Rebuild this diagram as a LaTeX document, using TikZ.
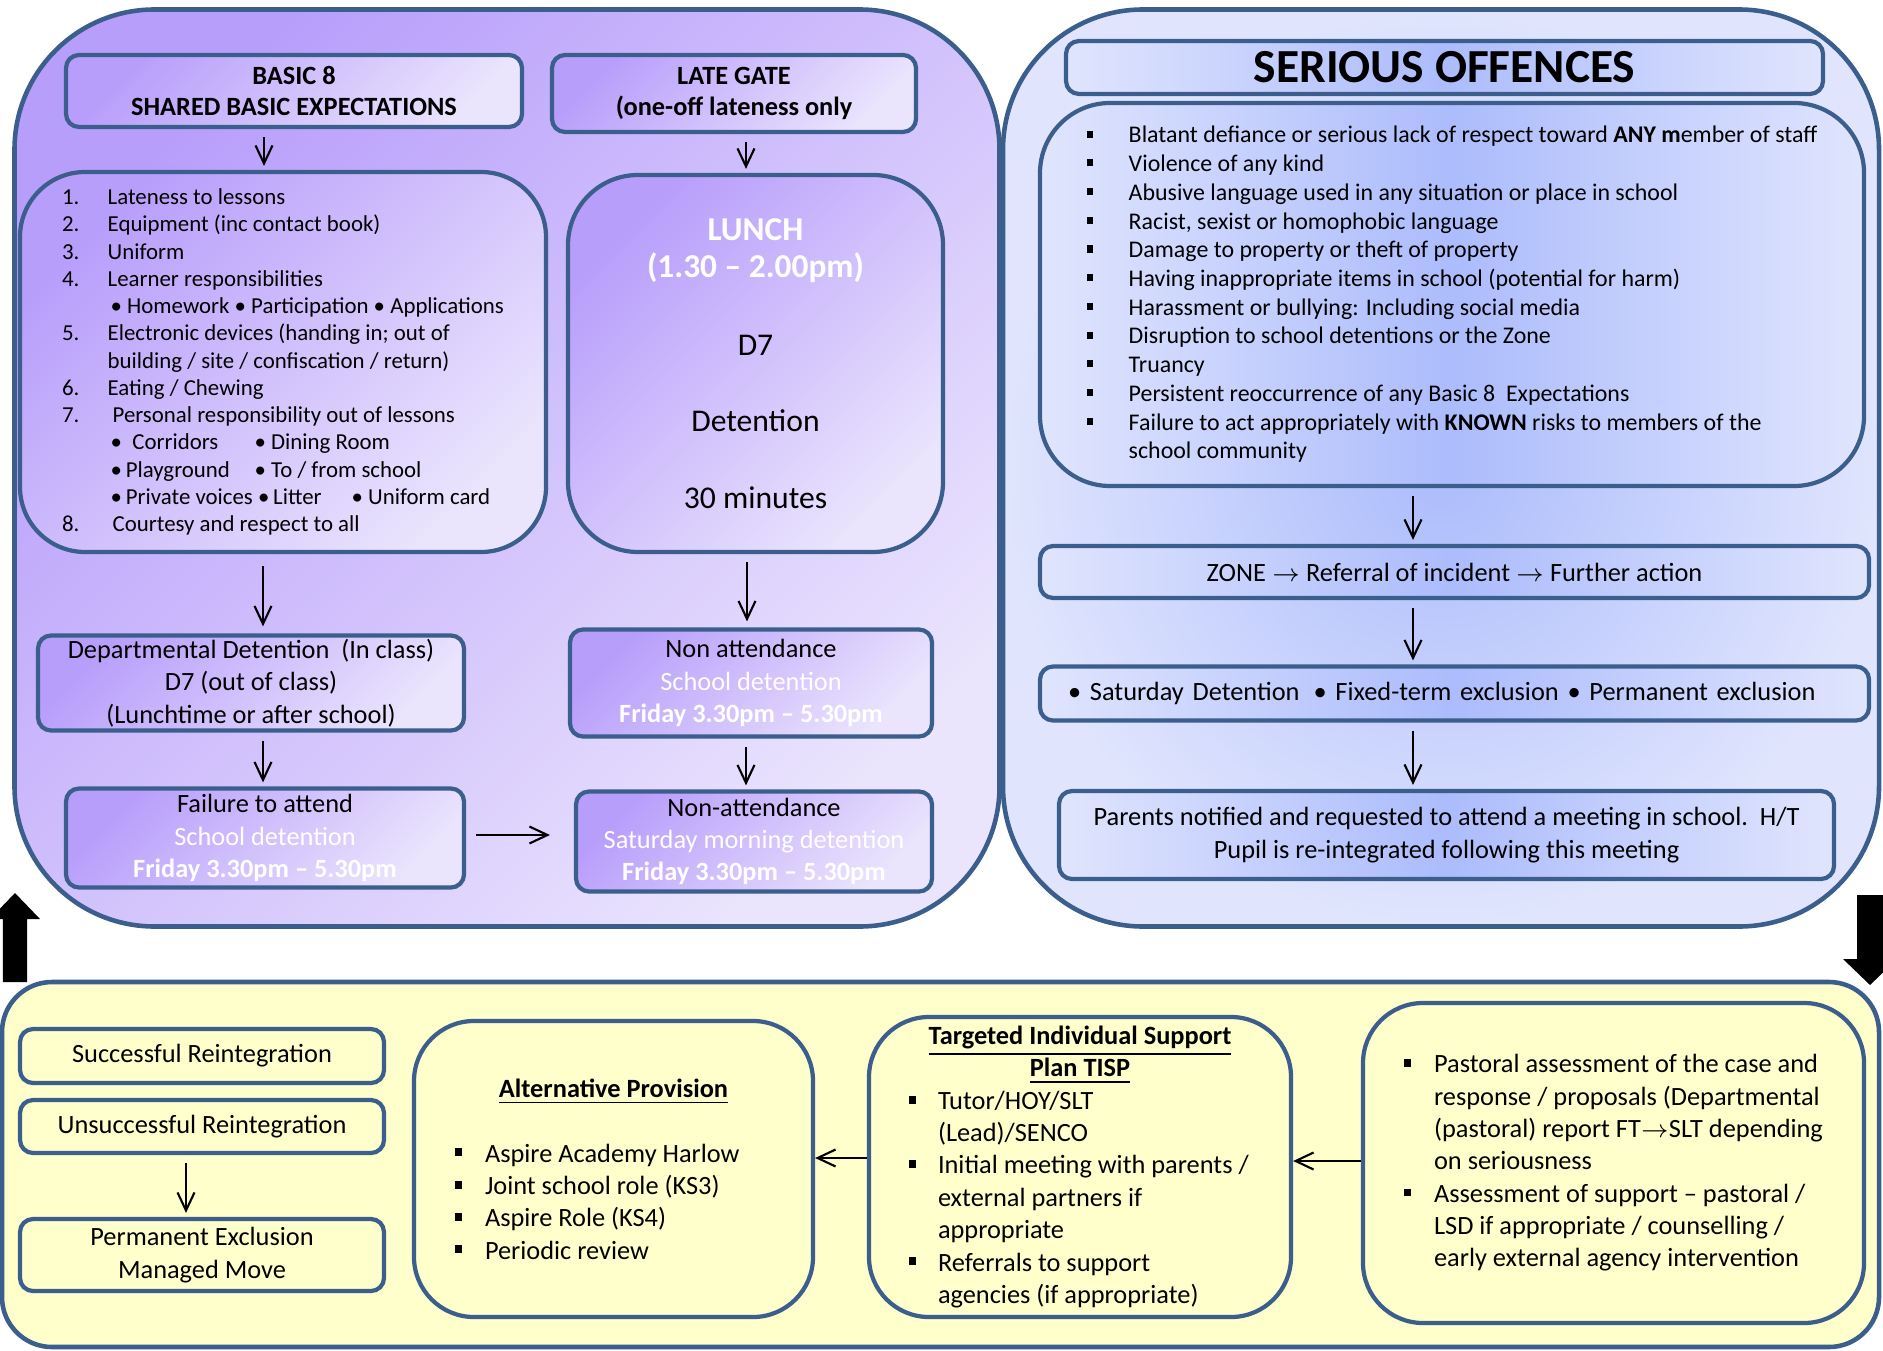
\documentclass[tikz,border=0pt]{standalone}
\usepackage{fontspec}
\setmainfont{Carlito}
\usetikzlibrary{arrows.meta, positioning, calc}
\definecolor{edgeblue}{RGB}{59, 94, 140}
\definecolor{lilacdark}{RGB}{184, 158, 251}
\definecolor{lilaclight}{RGB}{234, 228, 253}
\definecolor{periwinkle}{RGB}{172, 188, 252}
\definecolor{paleblue}{RGB}{224, 229, 253}
\definecolor{cream}{RGB}{255, 255, 204}
\newcommand{\fsz}[2]{\fontsize{#1}{#2}\selectfont}
\newcommand{\sqbullet}{\rule[0.22em]{0.26em}{0.3em}}
\newcommand{\sqitem}[1]{\makebox[#1][l]{\sqbullet}}
\newcommand{\indentgap}[1]{\makebox[#1]{}}
\newcommand{\numitem}[1]{\makebox[0.456cm][l]{#1}}

\begin{document}
\begin{tikzpicture}[
    >={Straight Barb[length=1.8mm,width=1.7mm]},
    panel/.style={rectangle, rounded corners=1.4cm, draw=edgeblue, line width=1.3pt},
    lilacbox/.style={rectangle, rounded corners=0.13cm, draw=edgeblue, line width=1.2pt, top color=lilacdark, bottom color=lilaclight, shading angle=45, align=center, inner sep=1pt, font=\fsz{7.5}{9.2}},
    lilacbig/.style={lilacbox, rounded corners=0.65cm},
    bluebox/.style={rectangle, rounded corners=0.13cm, draw=edgeblue, line width=1.2pt, left color=paleblue, right color=paleblue, middle color=periwinkle, align=center, inner sep=1pt, font=\fsz{7.5}{9.2}},
    creambox/.style={rectangle, rounded corners=0.13cm, draw=edgeblue, line width=1.2pt, fill=cream, align=center, inner sep=1pt, font=\fsz{7.5}{9.2}},
    creambig/.style={creambox, rounded corners=0.6cm, align=left},
    flow/.style={->, black, line width=0.6pt, shorten <=0.8mm, shorten >=0.4mm}
]
\useasboundingbox (0,0) rectangle (18.83,13.5);

% Panels
\node (detpanel) [panel, top color=lilacdark, bottom color=lilaclight, shading angle=45, minimum width=9.85cm, minimum height=9.17cm] at (5.07,8.82) {};
\node (offpanel) [panel, inner color=periwinkle, outer color=paleblue, minimum width=8.76cm, minimum height=9.17cm] at (14.41,8.82) {};
\node (supportpanel) [panel, rounded corners=0.5cm, fill=cream, minimum width=18.77cm, minimum height=3.65cm] at (9.405,1.855) {};

% Detentions
\node (basic8) [lilacbox, font=\fsz{7.5}{8.8}\bfseries, minimum width=4.56cm, minimum height=0.72cm] at (2.94,12.59) {BASIC 8\\SHARED BASIC EXPECTATIONS};
\node (lategate) [lilacbox, font=\fsz{7.5}{8.8}\bfseries, minimum width=3.64cm, minimum height=0.77cm] at (7.34,12.565) {LATE GATE\\(one-off lateness only};

\node (basiclist) [lilacbig, align=left, font=\fsz{6.5}{7.76}, minimum width=5.26cm, minimum height=3.80cm] at (2.83,9.88) {%
\numitem{1.}Lateness to lessons\\
\numitem{2.}Equipment (inc contact book)\\
\numitem{3.}Uniform\\
\numitem{4.}Learner responsibilities\\
\indentgap{0.456cm}\hspace{0.03cm}\textbullet\ Homework \textbullet\ Participation \textbullet\ Applications\\
\numitem{5.}Electronic devices (handing in; out of\\
\indentgap{0.456cm}building / site / confiscation / return)\\
\numitem{6.}Eating / Chewing\\
\numitem{7.}\hspace{0.05cm}Personal responsibility out of lessons\\
\indentgap{0.456cm}\hspace{0.03cm}\makebox[1.44cm][l]{\textbullet\ \ Corridors}\textbullet\ Dining Room\\
\indentgap{0.456cm}\hspace{0.03cm}\makebox[1.44cm][l]{\textbullet\,Playground}\textbullet\ To / from school\\
\indentgap{0.456cm}\hspace{0.03cm}\makebox[2.41cm][l]{\textbullet\,Private voices \textbullet\,Litter}\textbullet\ Uniform card\\
\numitem{8.}\hspace{0.05cm}Courtesy and respect to all};

\node (lunch) [lilacbig, rounded corners=0.7cm, font=\fsz{9}{10.6}, minimum width=3.75cm, minimum height=3.77cm] at (7.555,9.865) {%
\textcolor{white}{\bfseries\fsz{9.5}{10.6}LUNCH}\\
\textcolor{white}{\bfseries\fsz{9.5}{10.6}(1.30 -- 2.00pm)}\\[11.5pt]
D7\\[11.2pt]
Detention\\[11.2pt]
30 minutes};

\node (deptdet) [lilacbox, minimum width=4.26cm, minimum height=0.95cm] at (2.51,6.67) {Departmental Detention\ \ (In class)\\D7 (out of class)\\(Lunchtime or after school)};
\node (nonatt1) [lilacbox, minimum width=3.62cm, minimum height=1.07cm] at (7.51,6.67) {Non attendance\\\textcolor{white}{School detention}\\\textcolor{white}{\bfseries Friday 3.30pm -- 5.30pm}};
\node (failatt) [lilacbox, minimum width=3.98cm, minimum height=0.99cm] at (2.65,5.12) {Failure to attend\\\textcolor{white}{School detention}\\\textcolor{white}{\bfseries Friday 3.30pm -- 5.30pm}};
\node (nonatt2) [lilacbox, minimum width=3.56cm, minimum height=1.00cm] at (7.54,5.085) {Non-attendance\\\textcolor{white}{Saturday morning detention}\\\textcolor{white}{\bfseries Friday 3.30pm -- 5.30pm}};

% Serious offences
\node (serious) [bluebox, font=\fsz{13.5}{14}\bfseries, minimum width=7.57cm, minimum height=0.53cm] at (14.445,12.825) {SERIOUS OFFENCES};
\node (offlist) [bluebox, rounded corners=0.7cm, align=left, font=\fsz{6.8}{8.17}, minimum width=8.24cm, minimum height=3.83cm] at (14.52,10.555) {%
\sqitem{0.42cm}Blatant defiance or serious lack of respect toward \textbf{ANY m}ember of staff\\
\sqitem{0.42cm}Violence of any kind\\
\sqitem{0.42cm}Abusive language used in any situation or place in school\\
\sqitem{0.42cm}Racist, sexist or homophobic language\\
\sqitem{0.42cm}Damage to property or theft of property\\
\sqitem{0.42cm}Having inappropriate items in school (potential for harm)\\
\sqitem{0.42cm}Harassment or bullying: Including social media\\
\sqitem{0.42cm}Disruption to school detentions or the Zone\\
\sqitem{0.42cm}Truancy\\
\sqitem{0.42cm}Persistent reoccurrence of any Basic 8\ \ Expectations\\
\sqitem{0.42cm}Failure to act appropriately with \textbf{KNOWN} risks to members of the\\
\indentgap{0.42cm}school community};
\node (zone) [bluebox, minimum width=8.29cm, minimum height=0.52cm] at (14.545,7.78) {ZONE $\rightarrow$ Referral of incident $\rightarrow$ Further action};
\node (sanctions) [bluebox, align=left, inner xsep=0.28cm, text width=7.73cm, minimum width=8.29cm, minimum height=0.54cm] at (14.545,6.565) {\textbullet\ Saturday Detention\hspace{4pt}\textbullet\ Fixed-term exclusion \textbullet\ Permanent exclusion};
\node (parents) [bluebox, minimum width=7.75cm, minimum height=0.88cm] at (14.465,5.15) {Parents notified and requested to attend a meeting in school.\ \ H/T\\Pupil is re-integrated following this meeting};

% Support and reintegration
\node (success) [creambox, minimum width=3.64cm, minimum height=0.54cm] at (2.02,2.94) {Successful Reintegration};
\node (unsuccess) [creambox, minimum width=3.64cm, minimum height=0.53cm] at (2.02,2.235) {Unsuccessful Reintegration};
\node (permex) [creambox, minimum width=3.64cm, minimum height=0.72cm] at (2.02,0.95) {Permanent Exclusion\\Managed Move};
\node (altprov) [creambig, minimum width=3.99cm, minimum height=2.96cm] at (6.135,1.81) {%
\makebox[3.17cm]{\underline{\textbf{Alternative Provision}}}\\[9.2pt]
\sqitem{0.30cm}Aspire Academy Harlow\\
\sqitem{0.30cm}Joint school role (KS3)\\
\sqitem{0.30cm}Aspire Role (KS4)\\
\sqitem{0.30cm}Periodic review};
\node (tisp) [creambig, minimum width=4.22cm, minimum height=3.00cm] at (10.80,1.83) {%
\makebox[3.42cm]{\underline{\textbf{Targeted Individual Support}}}\\
\makebox[3.42cm]{\underline{\textbf{Plan TISP}}}\\
\sqitem{0.29cm}Tutor/HOY/SLT\\
\indentgap{0.29cm}(Lead)/SENCO\\
\sqitem{0.29cm}Initial meeting with parents /\\
\indentgap{0.29cm}external partners if\\
\indentgap{0.29cm}appropriate\\
\sqitem{0.29cm}Referrals to support\\
\indentgap{0.29cm}agencies (if appropriate)};
\node (pastoral) [creambig, minimum width=5.01cm, minimum height=3.20cm] at (16.135,1.87) {%
\sqitem{0.30cm}Pastoral assessment of the case and\\
\indentgap{0.30cm}response / proposals (Departmental\\
\indentgap{0.30cm}(pastoral) report FT$\rightarrow$SLT depending\\
\indentgap{0.30cm}on seriousness\\
\sqitem{0.30cm}Assessment of support -- pastoral /\\
\indentgap{0.30cm}LSD if appropriate / counselling /\\
\indentgap{0.30cm}early external agency intervention};

% Arrows
\draw [flow] ([xshift=-3mm]basic8.south) -- ([xshift=-3mm]basic8.south |- basiclist.north);
\draw [flow] ([xshift=1.2mm]lategate.south) -- ([xshift=1.2mm]lategate.south |- lunch.north);
\draw [flow, shorten <=1.2mm, shorten >=0.7mm] ([xshift=-2mm]basiclist.south) -- ([xshift=-2mm]basiclist.south |- deptdet.north);
\draw [flow, shorten >=0.6mm] ([xshift=-0.85mm]lunch.south) -- ([xshift=-0.85mm]lunch.south |- nonatt1.north);
\draw [flow] ([xshift=1.2mm]deptdet.south) -- ([xshift=1.2mm]deptdet.south |- failatt.north);
\draw [flow] ([xshift=-0.5mm]nonatt1.south) -- ([xshift=-0.5mm]nonatt1.south |- nonatt2.north);
\draw [flow, shorten <=1mm, shorten >=2.4mm] ([yshift=0.3mm]failatt.east) -- ([yshift=0.3mm]failatt.east -| nonatt2.west);
\draw [flow] ([xshift=-3.9mm]offlist.south) -- ([xshift=-3.9mm]offlist.south |- zone.north);
\draw [flow] ([xshift=-4.15mm]zone.south) -- ([xshift=-4.15mm]zone.south |- sanctions.north);
\draw [flow] ([xshift=-4.15mm]sanctions.south) -- ([xshift=-4.15mm]sanctions.south |- parents.north);
\draw [flow] ([xshift=-1.6mm]unsuccess.south) -- ([xshift=-1.6mm]unsuccess.south |- permex.north);
\draw [flow, shorten <=0mm, shorten >=0mm] ([yshift=0.9mm]tisp.west) -- ([yshift=0.9mm]tisp.west -| altprov.east);
\draw [flow, shorten <=0mm, shorten >=0mm] ([yshift=0.2mm]pastoral.west) -- ([yshift=0.2mm]pastoral.west -| tisp.east);

% Return arrows at the edges
\fill (0.03,3.68) -- (0.03,4.31) -- (-0.10,4.31) -- (0.15,4.57) -- (0.40,4.31) -- (0.27,4.31) -- (0.27,3.68) -- cycle;
\fill (18.57,4.55) -- (18.57,3.91) -- (18.43,3.91) -- (18.70,3.65) -- (18.97,3.91) -- (18.83,3.91) -- (18.83,4.55) -- cycle;

\end{tikzpicture}
\end{document}
